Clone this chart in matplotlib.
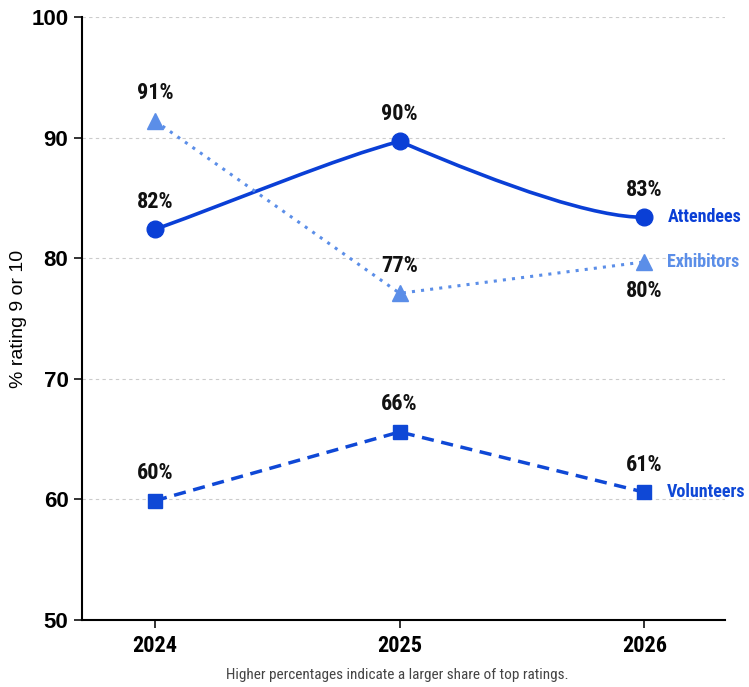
import matplotlib.pyplot as plt
from matplotlib import font_manager
from matplotlib.path import Path
from matplotlib.patches import PathPatch

years = ["2024", "2025", "2026"]
attendees = [82.4, 89.7, 83.4]
exhibitors = [91.4, 77.1, 79.7]
volunteers = [59.9, 65.6, 60.6]
yticks = [50, 60, 70, 80, 90, 100]

c_att = "#0a3fd6"
c_exh = "#5b8ee8"
c_vol = "#0f48d6"

# look for a narrow font, else condensed DejaVu
have = {f.name for f in font_manager.fontManager.ttflist}
narrow_name = "DejaVu Sans"
for n in ["Liberation Sans Narrow", "Roboto Condensed", "Open Sans Condensed",
          "Noto Sans Condensed", "DejaVu Sans Condensed"]:
    if n in have:
        narrow_name = n
        break
narrow = [narrow_name, "DejaVu Sans"]
stretch = "condensed"

fig = plt.figure(figsize=(7.49, 6.87), dpi=100)
ax = fig.add_axes([0.109, 0.0975, 0.859, 0.8775])
x = list(range(len(years)))

# smoothed path for attendees, built from the data points
verts = [(x[0], attendees[0])]
codes = [Path.MOVETO]
for i in range(len(x) - 1):
    x0, y0, x1, y1 = x[i], attendees[i], x[i + 1], attendees[i + 1]
    dx = x1 - x0
    if i == 0:
        c1 = (x0 + dx / 3, y0 + (y1 - y0) / 3)
        c2 = (x1 - dx / 4, y1 - (y1 - y0) * 0.18)
    else:
        c1 = (x0 + dx * 0.45, y0 + (y1 - y0) * 0.62)
        c2 = (x1 - dx * 0.2, y1)
    verts += [c1, c2, (x1, y1)]
    codes += [Path.CURVE4] * 3
ax.add_patch(PathPatch(Path(verts, codes), fill=False, edgecolor=c_att,
                       lw=2.6, zorder=3, capstyle="round"))
ax.plot(x, attendees, ls="none", marker="o", ms=12, color=c_att, zorder=4)
ax.plot(x, exhibitors, ls=(0, (1, 2)), lw=2.2, marker="^", ms=11,
        color=c_exh, zorder=3)
ax.plot(x, volunteers, ls=(0, (3.5, 2.2)), lw=2.5, marker="s", ms=10,
        color=c_vol, zorder=3)

lab_kw = dict(ha="center", fontsize=16, fontweight="bold", family=narrow,
              fontstretch=stretch, color="#111111", textcoords="offset points")
for i in x:
    ax.annotate(f"{attendees[i]:.0f}%", (i, attendees[i]), xytext=(0, 12),
                va="bottom", **lab_kw)
    ax.annotate(f"{volunteers[i]:.0f}%", (i, volunteers[i]), xytext=(0, 12),
                va="bottom", **lab_kw)
    if i == 2:
        ax.annotate(f"{exhibitors[i]:.0f}%", (i, exhibitors[i]),
                    xytext=(0, -13), va="top", **lab_kw)
    else:
        ax.annotate(f"{exhibitors[i]:.0f}%", (i, exhibitors[i]),
                    xytext=(0, 12), va="bottom", **lab_kw)

name_kw = dict(va="center", ha="left", fontsize=13, fontweight="bold",
               family=narrow, fontstretch=stretch, textcoords="offset points")
ax.annotate("Attendees", (x[-1], attendees[-1]), xytext=(17, 0),
            color=c_att, **name_kw)
ax.annotate("Exhibitors", (x[-1], exhibitors[-1]), xytext=(16, 0),
            color=c_exh, **name_kw)
ax.annotate("Volunteers", (x[-1], volunteers[-1]), xytext=(16, 0),
            color=c_vol, **name_kw)

ax.set_xlim(-0.3, 2.33)
ax.set_ylim(50, 100)
ax.set_yticks(yticks)
ax.set_xticks(x)
ax.set_xticklabels(years, fontsize=16, fontweight="bold", family=narrow,
                   fontstretch=stretch)
for t in ax.get_yticklabels():
    t.set_fontsize(16)
    t.set_fontweight("bold")
    t.set_family(["Liberation Sans", "DejaVu Sans"])
ax.set_ylabel("% rating 9 or 10", fontsize=14,
              family=["Liberation Sans", "DejaVu Sans"], labelpad=3)
ax.grid(axis="y", ls=(0, (3, 3)), color="#cccccc", lw=0.8)
ax.set_axisbelow(True)
ax.spines["top"].set_visible(False)
ax.spines["right"].set_visible(False)
ax.spines["left"].set_linewidth(1.5)
ax.spines["bottom"].set_linewidth(1.5)
ax.tick_params(axis="both", width=1.3, length=6, color="#222222")
ax.tick_params(axis="x", pad=5)

fig.text(0.53, 0.012, "Higher percentages indicate a larger share of top ratings.",
         ha="center", fontsize=11, color="#444444", family=narrow,
         fontstretch=stretch)

fig.savefig("out.png", dpi=100)
